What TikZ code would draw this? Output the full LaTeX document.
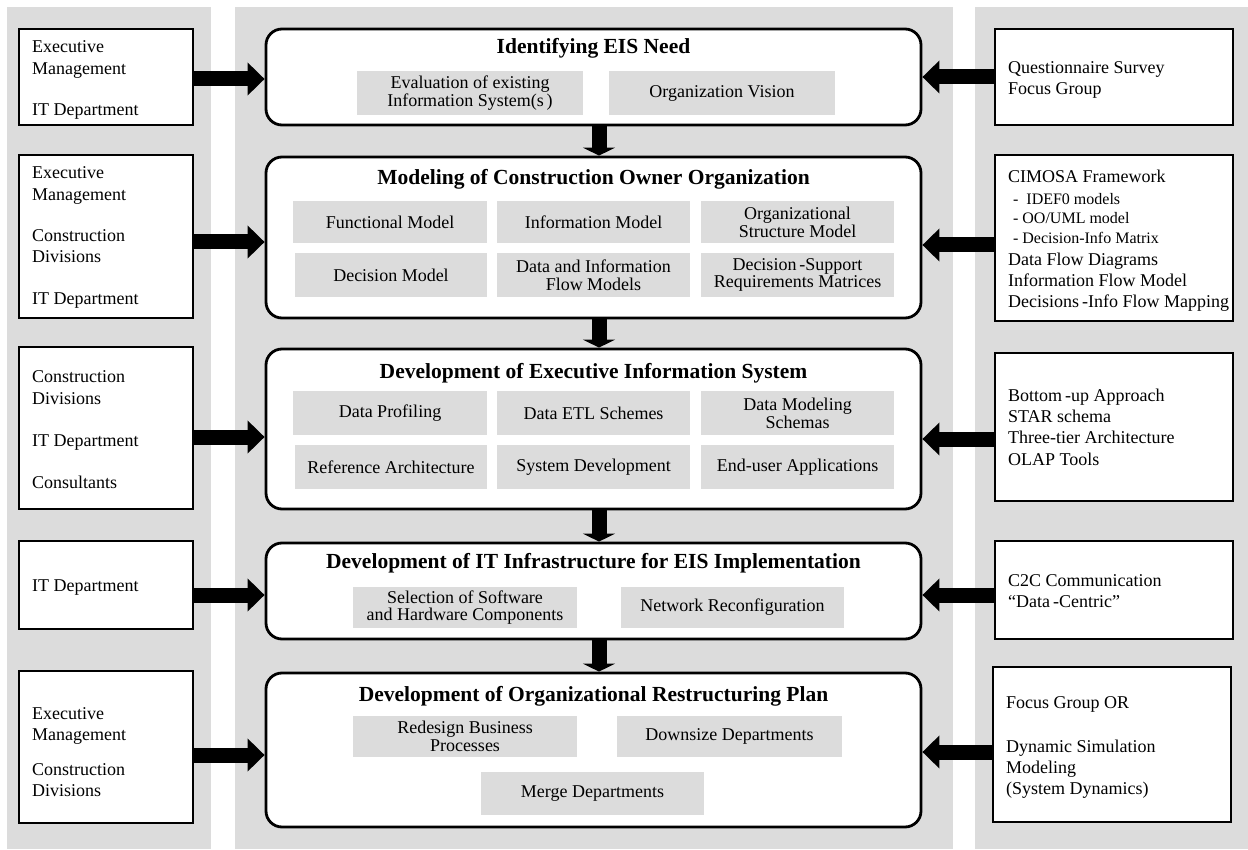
\documentclass[tikz,border=0pt]{standalone}
\usepackage{fontspec}
\setmainfont{Liberation Serif}
\usetikzlibrary{arrows.meta}
\definecolor{panelgray}{HTML}{DCDCDC}
\definecolor{subgray}{HTML}{DCDCDC}
\begin{document}
\begin{tikzpicture}[x=1pt,y=-1pt,
  mainbox/.style={draw, line width=2.8pt, rounded corners=16pt, fill=white, minimum width=655pt, inner sep=0pt},
  sidebox/.style={draw, line width=2.2pt, fill=white, inner sep=0pt},
  subbox/.style={fill=subgray, inner sep=0pt, align=center, font=\fontsize{18}{17.8}\selectfont},
  boxtitle/.style={font=\fontsize{21.5}{24}\selectfont\bfseries, inner sep=0pt},
  sidetext/.style={anchor=west, align=left, inner sep=0pt, font=\fontsize{18}{21.3}\selectfont},
  fatarrow/.style={line width=15pt, -{Triangle[length=17pt,width=32pt]}},
  downarrow/.style={line width=15pt, -{Triangle[length=8pt,width=32pt]}},
]
\useasboundingbox (0,0) rectangle (1248,850);
% panels
\fill[panelgray] (7,7) rectangle (211,849);
\fill[panelgray] (235,7) rectangle (953,849);
\fill[panelgray] (975,7) rectangle (1248,849);

% main boxes
\node[mainbox, minimum height=96pt]  (mb1) at (593.5,77) {};
\node[mainbox, minimum height=161pt] (mb2) at (593.5,237.5) {};
\node[mainbox, minimum height=160pt] (mb3) at (593.5,429) {};
\node[mainbox, minimum height=96pt]  (mb4) at (593.5,591) {};
\node[mainbox, minimum height=154pt] (mb5) at (593.5,750) {};

% titles
\node[boxtitle] (t1) at (593.5,48) {Identifying EIS Need};
\node[boxtitle] (t2) at (593.5,179.5) {Modeling of Construction Owner Organization};
\node[boxtitle] (t3) at (593.5,373.5) {Development of Executive Information System};
\node[boxtitle] (t4) at (593.5,563.5) {Development of IT Infrastructure for EIS Implementation};
\node[boxtitle] (t5) at (593.5,696.5) {Development of Organizational Restructuring Plan};

% sub boxes
\node[subbox, minimum width=226pt, minimum height=44pt] (s11) at (470,93) {Evaluation of existing\\Information System(s\,)};
\node[subbox, minimum width=226pt, minimum height=44pt] (s12) at (722,93) {Organization Vision};

\node[subbox, minimum width=194pt, minimum height=42pt] (s21) at (390,222) {Functional Model};
\node[subbox, minimum width=193pt, minimum height=42pt] (s22) at (593.5,222) {Information Model};
\node[subbox, minimum width=193pt, minimum height=42pt] (s23) at (797.5,222) {Organizational\\Structure Model};
\node[subbox, minimum width=192pt, minimum height=44pt] (s24) at (391,275) {Decision Model};
\node[subbox, minimum width=193pt, minimum height=44pt] (s25) at (593.5,275) {Data and Information\\Flow Models};
\node[subbox, minimum width=193pt, minimum height=44pt] (s26) at (797.5,275) {Decision\,-Support\\Requirements Matrices};

\node[subbox, minimum width=194pt, minimum height=44pt] (s31) at (390,413) {Data Profiling};
\node[subbox, minimum width=193pt, minimum height=44pt] (s32) at (593.5,413) {Data ETL Schemes};
\node[subbox, minimum width=193pt, minimum height=44pt] (s33) at (797.5,413) {Data Modeling\\Schemas};
\node[subbox, minimum width=192pt, minimum height=44pt] (s34) at (391,467) {Reference Architecture};
\node[subbox, minimum width=193pt, minimum height=44pt] (s35) at (593.5,467) {System Development};
\node[subbox, minimum width=193pt, minimum height=44pt] (s36) at (797.5,467) {End-user Applications};

\node[subbox, minimum width=224pt, minimum height=41pt] (s41) at (465,607.5) {Selection of Software\\and Hardware Components};
\node[subbox, minimum width=223pt, minimum height=41pt] (s42) at (732.5,607.5) {Network Reconfiguration};

\node[subbox, minimum width=224pt, minimum height=41pt] (s51) at (465,736.5) {Redesign Business\\Processes};
\node[subbox, minimum width=225pt, minimum height=41pt] (s52) at (729.5,736.5) {Downsize Departments};
\node[subbox, minimum width=223pt, minimum height=43pt] (s53) at (592.5,793.5) {Merge Departments};

% left boxes
\node[sidebox, minimum width=174pt, minimum height=96pt]  (lb1) at (106,77) {};
\node[sidebox, minimum width=174pt, minimum height=163pt] (lb2) at (106,236.5) {};
\node[sidebox, minimum width=174pt, minimum height=162pt] (lb3) at (106,428) {};
\node[sidebox, minimum width=174pt, minimum height=88pt]  (lb4) at (106,585) {};
\node[sidebox, minimum width=174pt, minimum height=152pt] (lb5) at (106,747) {};

\node[sidetext] (lt1) at ([xshift=14pt,yshift=-3pt]lb1.west) {Executive\\Management\\[20pt]IT Department};
\node[sidetext] (lt2) at ([xshift=14pt,yshift=-1pt]lb2.west) {Executive\\Management\\[20pt]Construction\\Divisions\\[20pt]IT Department};
\node[sidetext] (lt3) at ([xshift=14pt,yshift=-2pt]lb3.west) {Construction\\Divisions\\[21pt]IT Department\\[21pt]Consultants};
\node[sidetext] (lt4) at ([xshift=14pt,yshift=-3pt]lb4.west) {IT Department};
\node[sidetext] (lt5) at ([xshift=14pt,yshift=-5pt]lb5.west) {Executive\\Management\\[13pt]Construction\\Divisions};

% right boxes
\node[sidebox, minimum width=238pt, minimum height=96pt]  (rb1) at (1114,77) {};
\node[sidebox, minimum width=238pt, minimum height=166pt] (rb2) at (1114,238) {};
\node[sidebox, minimum width=238pt, minimum height=148pt] (rb3) at (1114,427) {};
\node[sidebox, minimum width=238pt, minimum height=98pt]  (rb4) at (1114,590) {};
\node[sidebox, minimum width=238pt, minimum height=155pt] (rb5) at (1112,744.5) {};

\node[sidetext] (rt1) at ([xshift=14pt,yshift=-3pt]rb1.west) {Questionnaire Survey\\Focus Group};
\node[sidetext] (rt2) at ([xshift=14pt,yshift=-3pt]rb2.west) {CIMOSA Framework\\
{\fontsize{16}{19}\selectfont\hspace*{5pt}-\ \ IDEF0 models}\\[-2pt]
{\fontsize{16}{19}\selectfont\hspace*{5pt}- OO/UML model}\\[-1pt]
{\fontsize{16}{19}\selectfont\hspace*{5pt}- Decision-Info Matrix}\\
Data Flow Diagrams\\Information Flow Model\\Decisions\,-Info Flow Mapping};
\node[sidetext] (rt3) at ([xshift=14pt]rb3.west) {Bottom\,-up Approach\\STAR schema\\Three-tier Architecture\\OLAP Tools};
\node[sidetext] (rt4) at ([xshift=14pt,yshift=-1pt]rb4.west) {C2C Communication\\“Data\,-Centric”};
\node[sidetext] (rt5) at ([xshift=14pt,yshift=-3pt]rb5.west) {Focus Group OR\\[23pt]Dynamic Simulation\\Modeling\\(System Dynamics)};

% arrow heights
\coordinate (la1) at (0,79);
\coordinate (la2) at (0,242);
\coordinate (la3) at (0,437);
\coordinate (la4) at (0,595);
\coordinate (la5) at (0,755);
\coordinate (ra1) at (0,77);
\coordinate (ra2) at (0,245);
\coordinate (ra3) at (0,439);
\coordinate (ra4) at (0,595);
\coordinate (ra5) at (0,752);
\coordinate (dx) at (599,0);

% left arrows
\draw[fatarrow] (lb1.east |- la1) -- (mb1.west |- la1);
\draw[fatarrow] (lb2.east |- la2) -- (mb2.west |- la2);
\draw[fatarrow] (lb3.east |- la3) -- (mb3.west |- la3);
\draw[fatarrow] (lb4.east |- la4) -- (mb4.west |- la4);
\draw[fatarrow] (lb5.east |- la5) -- (mb5.west |- la5);
% right arrows
\draw[fatarrow] (rb1.west |- ra1) -- (mb1.east |- ra1);
\draw[fatarrow] (rb2.west |- ra2) -- (mb2.east |- ra2);
\draw[fatarrow] (rb3.west |- ra3) -- (mb3.east |- ra3);
\draw[fatarrow] (rb4.west |- ra4) -- (mb4.east |- ra4);
\draw[fatarrow] (rb5.west |- ra5) -- (mb5.east |- ra5);
% down arrows
\draw[downarrow] (mb1.south -| dx) -- (mb2.north -| dx);
\draw[downarrow] (mb2.south -| dx) -- (mb3.north -| dx);
\draw[downarrow] (mb3.south -| dx) -- (mb4.north -| dx);
\draw[downarrow] (mb4.south -| dx) -- (mb5.north -| dx);
\end{tikzpicture}
\end{document}
